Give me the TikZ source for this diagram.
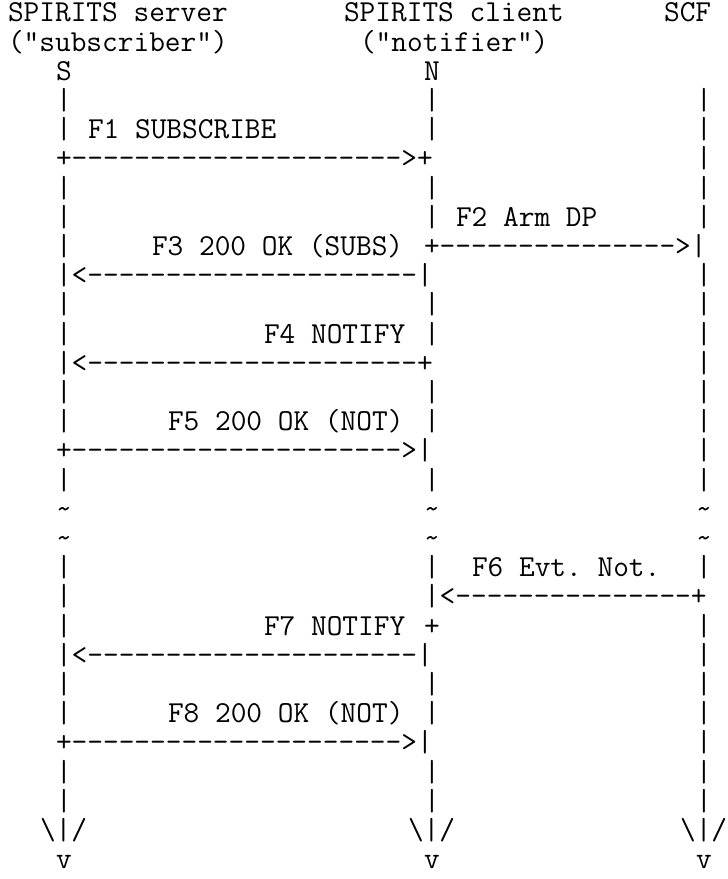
\documentclass[tikz,border=0pt]{standalone}
\usetikzlibrary{positioning}

\tikzset{
  ch/.style={font=\fontsize{22.86pt}{27pt}\selectfont\ttfamily\frenchspacing,
    inner sep=0pt, outer sep=0pt, anchor=base west},
}
\newcommand{\dashrun}[1]{\foreach \k in {1,...,#1}{-\kern0pt}}

\begin{document}
\begin{tikzpicture}[x=12pt,y=-21.9pt]
  \useasboundingbox (-0.5,0) rectangle (44.94,30.1);

  \node[ch] (srvname) at (0,0.75) {SPIRITS server};
  \node[ch] (cliname) at (21,0.75) {SPIRITS client};
  \node[ch] (scfname) at (41,0.75) {SCF};
  \node[ch] (srvrole) at (0,1.75) {("subscriber")};
  \node[ch] (clirole) at (22,1.75) {("notifier")};
  \node[ch] (S) at (3,2.75) {S};
  \node[ch] (N) at (26,2.75) {N};

  % lifelines
  \foreach \r in {4,5,7,8,9,11,12,14,15,17,20,21,22,24,25,27,28}
    \node[ch] (srv\r) at (3,\r-0.25) {|};
  \foreach \r in {4,5,7,8,11,12,14,15,17,20,24,25,27,28}
    \node[ch] (cli\r) at (26,\r-0.25) {|};
  \foreach \r in {4,5,6,7,8,10,11,12,13,14,15,16,17,20,22,23,24,25,26,27,28}
    \node[ch] (scf\r) at (43,\r-0.25) {|};
  \foreach \r in {18,19}
    \foreach \c/\n in {3/srv,26/cli,43/scf}
      \node[ch] (\n\r) at (\c,\r-0.25) {\textasciitilde};

  \node[ch] (f1lbl) at (5,4.75) {F1 SUBSCRIBE};
  \node[ch] (f1arr) at (3,5.75) {+\dashrun{21}>+};
  \node[ch] (f2lbl) at (28,7.75) {F2 Arm DP};
  \node[ch] (f2arr) at (26,8.75) {+\dashrun{15}>|};
  \node[ch] (f3lbl) at (9,8.75) {F3 200 OK (SUBS)};
  \node[ch] (f3arr) at (3,9.75) {|<\dashrun{21}|};
  \node[ch] (f4lbl) at (16,11.75) {F4 NOTIFY};
  \node[ch] (f4arr) at (3,12.75) {|<\dashrun{21}+};
  \node[ch] (f5lbl) at (10,14.75) {F5 200 OK (NOT)};
  \node[ch] (f5arr) at (3,15.75) {+\dashrun{21}>|};
  \node[ch] (f6lbl) at (29,19.75) {F6 Evt. Not.};
  \node[ch] (f6arr) at (26,20.75) {|<\dashrun{15}+};
  \node[ch] (f7lbl) at (16,21.75) {F7 NOTIFY};
  \node[ch] (cli22) at (26,21.75) {+};
  \node[ch] (f7arr) at (3,22.75) {|<\dashrun{21}|};
  \node[ch] (f8lbl) at (10,24.75) {F8 200 OK (NOT)};
  \node[ch] (f8arr) at (3,25.75) {+\dashrun{21}>|};

  \foreach \c/\n in {2/srv,25/cli,42/scf} {
    \node[ch] (\n-end) at (\c,28.75) {\textbackslash|/};
    \node[ch] (\n-tip) at (\c+1,29.75) {v};
  }
\end{tikzpicture}
\end{document}
